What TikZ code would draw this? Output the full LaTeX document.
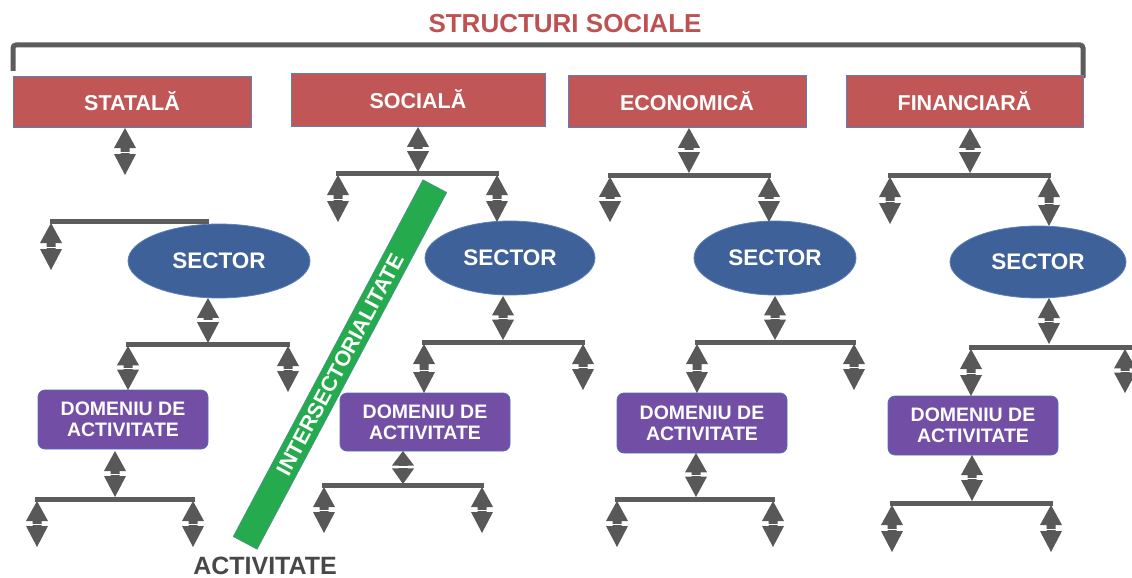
\documentclass[tikz,border=0pt]{standalone}
\usepackage{fontspec}
\setmainfont{Liberation Sans}
\usetikzlibrary{shapes.geometric}
\definecolor{boxred}{RGB}{192,86,86}
\definecolor{titlered}{RGB}{190,82,82}
\definecolor{boxedge}{RGB}{92,128,186}
\definecolor{sectblue}{RGB}{62,97,153}
\definecolor{dompurple}{RGB}{114,78,164}
\definecolor{domedge}{RGB}{80,110,190}
\definecolor{greenbar}{RGB}{38,170,78}
\definecolor{arrgray}{RGB}{88,88,88}
\definecolor{bargray}{RGB}{92,92,92}
\definecolor{acttext}{RGB}{72,72,72}
% vertical double arrow: x, top y, bottom y (picture units, y downwards)
\newcommand\dblarrow[3]{%
  \pgfmathsetmacro\dbh{min(20,0.44*(#3-#2))}%
  \pgfmathsetmacro\dbya{#2+\dbh}%
  \pgfmathsetmacro\dbyb{#3-\dbh-1}%
  \fill[arrgray] (#1,#2) -- (#1+11,\dbya) -- (#1+4.5,\dbya) -- (#1+4.5,\dbyb) -- (#1+11,\dbyb)
    -- (#1,#3) -- (#1-11,\dbyb) -- (#1-4.5,\dbyb) -- (#1-4.5,\dbya) -- (#1-11,\dbya) -- cycle;
  \draw[white, line width=1.4pt] (#1-9.5,\dbyb-1.3) -- (#1+9.5,\dbyb-1.3);%
}
\begin{document}
\begin{tikzpicture}[x=1pt,y=-1pt,
  redbox/.style={rectangle, fill=boxred, draw=boxedge, line width=0.8pt, inner sep=0pt,
    font=\bfseries\fontsize{21.5}{24}\selectfont, text=white},
  sect/.style={ellipse, fill=sectblue, draw=boxedge, line width=0.8pt, inner sep=0pt,
    font=\bfseries\fontsize{22.5}{24}\selectfont, text=white},
  dom/.style={rectangle, rounded corners=7pt, fill=dompurple, draw=domedge, line width=0.8pt,
    inner sep=0pt, align=center, font=\bfseries\fontsize{19.5}{21}\selectfont, text=white},
  hbar/.style={draw=bargray, line width=5pt},
]
\useasboundingbox (0,0) rectangle (1132,578);
\clip (0,0) rectangle (1132,578);
\fill[white] (0,0) rectangle (1132,578);

% title and bracket
\node[font=\bfseries\fontsize{26}{28}\selectfont, text=titlered] (title) at (565,24) {STRUCTURI SOCIALE};
\draw[hbar, rounded corners=3pt] (13,71) -- (13,45) -- (1083,45) -- (1083,78);

% top boxes
\node[redbox, minimum width=238pt, minimum height=51pt] (statala) at (132,101.5) {STATALĂ};
\node[redbox, minimum width=254pt, minimum height=53pt] (sociala) at (418,99.5) {SOCIALĂ};
\node[redbox, minimum width=238pt, minimum height=52pt] (economica) at (687,101) {ECONOMICĂ};
\node[redbox, minimum width=237pt, minimum height=52pt] (financiara) at (964.5,101) {FINANCIARĂ};

% sectors
\node[sect, minimum width=182pt, minimum height=74pt] (s1) at (219,261) {SECTOR};
\node[sect, minimum width=170pt, minimum height=74pt] (s2) at (510,258) {SECTOR};
\node[sect, minimum width=162pt, minimum height=74pt] (s3) at (775,258) {SECTOR};
\node[sect, minimum width=176pt, minimum height=72pt] (s4) at (1038,262) {SECTOR};

% domains
\node[dom, minimum width=170pt, minimum height=59pt] (d1) at (123,419.5) {DOMENIU DE\\ACTIVITATE};
\node[dom, minimum width=170pt, minimum height=58pt] (d2) at (425,422) {DOMENIU DE\\ACTIVITATE};
\node[dom, minimum width=170pt, minimum height=60pt] (d3) at (702,423) {DOMENIU DE\\ACTIVITATE};
\node[dom, minimum width=170pt, minimum height=59pt] (d4) at (973,425.5) {DOMENIU DE\\ACTIVITATE};

% ---- column 1
\dblarrow{125}{128}{175}
\draw[hbar] (50,221) -- (209,221);
\dblarrow{51}{223}{270}
\dblarrow{208}{298}{343}
\draw[hbar] (126,344) -- (290,344);
\dblarrow{128}{346}{390}
\dblarrow{288}{346}{392}
\dblarrow{115}{451}{497}
\draw[hbar] (35,499) -- (195,499);
\dblarrow{37}{501}{547}
\dblarrow{193}{501}{547}

% ---- column 2
\dblarrow{418}{127}{172}
\draw[hbar] (336,173) -- (499,173);
\dblarrow{338}{175}{222}
\dblarrow{497}{175}{222}
\dblarrow{503}{296}{340}
\draw[hbar] (422,342) -- (585,342);
\dblarrow{424}{344}{393}
\dblarrow{583}{344}{390}
\dblarrow{403}{451}{484}
\draw[hbar] (322,485) -- (484,485);
\dblarrow{324}{487}{533}
\dblarrow{482}{487}{533}

% ---- column 3
\dblarrow{689}{128}{173}
\draw[hbar] (608,175) -- (771,175);
\dblarrow{610}{177}{222}
\dblarrow{769}{177}{222}
\dblarrow{775}{296}{340}
\draw[hbar] (695,342) -- (856,342);
\dblarrow{697}{344}{393}
\dblarrow{854}{344}{390}
\dblarrow{696}{453}{497}
\draw[hbar] (615,499) -- (775,499);
\dblarrow{617}{501}{547}
\dblarrow{773}{501}{547}

% ---- column 4
\dblarrow{970}{128}{173}
\draw[hbar] (888,175) -- (1051,175);
\dblarrow{890}{177}{224}
\dblarrow{1049}{177}{226}
\dblarrow{1049}{298}{344}
\draw[hbar] (969,347) -- (1132,347);
\dblarrow{971}{349}{396}
\dblarrow{1125}{349}{393}
\dblarrow{972}{455}{501}
\draw[hbar] (890,503) -- (1053,503);
\dblarrow{892}{505}{552}
\dblarrow{1051}{505}{552}

% intersectoriality bar
\node[rectangle, fill=greenbar, draw=boxedge!60!greenbar, line width=0.6pt, rotate=62,
  minimum width=404pt, minimum height=27pt, inner sep=0pt,
  font=\bfseries\fontsize{21.5}{22}\selectfont, text=white] (inter) at (340,364.5) {INTERSECTORIALITATE};

% bottom label
\node[font=\bfseries\fontsize{25}{27}\selectfont, text=acttext] (activ) at (265,565.5) {ACTIVITATE};
\end{tikzpicture}
\end{document}
